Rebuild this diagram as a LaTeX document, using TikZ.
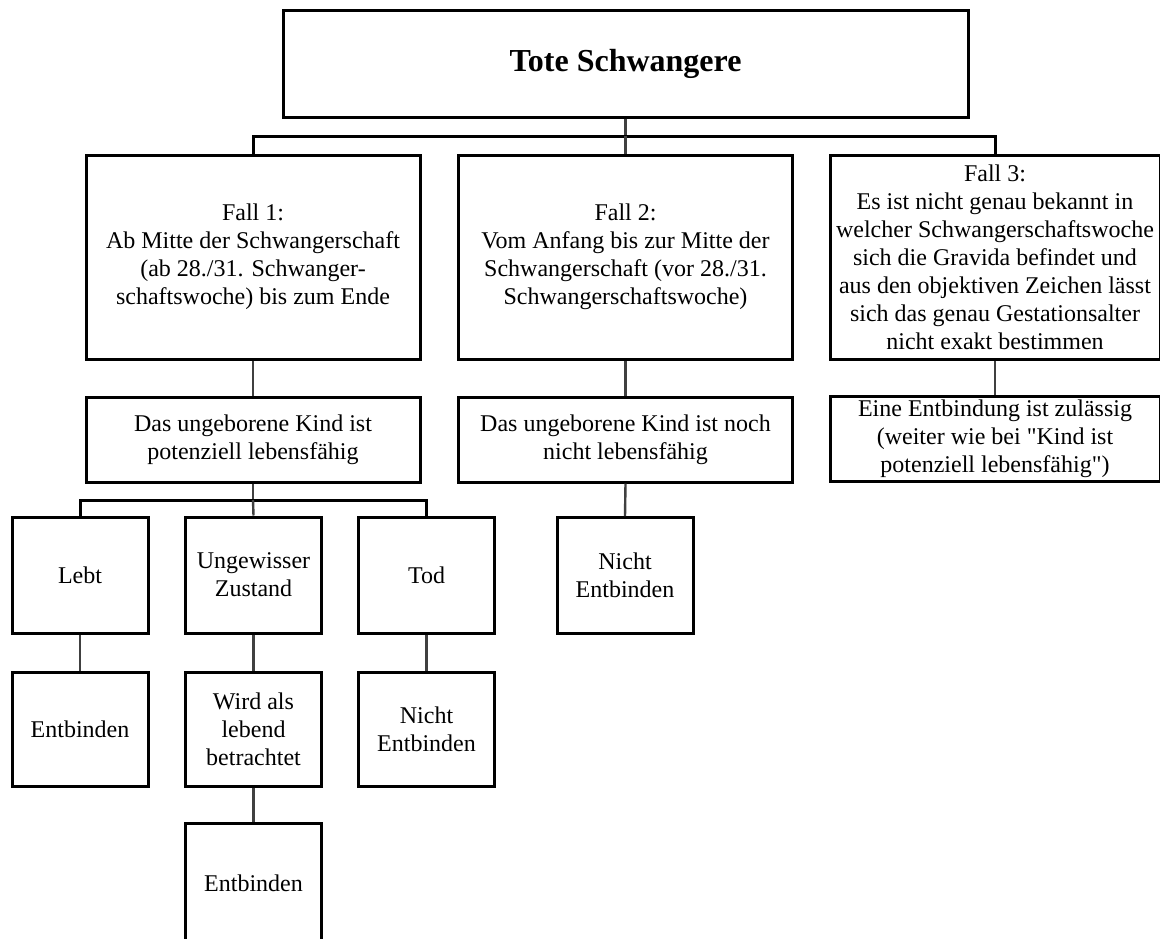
\documentclass[tikz,border=0pt]{standalone}
\usepackage{fontspec}
\setmainfont{Liberation Serif}[Ligatures=TeXOff]

\begin{document}
\begin{tikzpicture}[x=0.5pt,y=-0.5pt,
    box/.style={draw,line width=1.5pt,inner sep=0pt,align=center,
      font=\fontsize{12}{14}\selectfont},
    fallbox/.style={box,minimum width=167pt,minimum height=102pt},
    kindbox/.style={box,minimum width=167pt,minimum height=42.5pt},
    smallbox/.style={box,minimum width=68pt,minimum height=58pt},
    bus/.style={line width=1.5pt},
    stem/.style={line width=1.2pt,black!75}]
  \useasboundingbox (0,0) rectangle (1160,938);
  \clip (0,0) rectangle (1160,938);

  % Root
  \node[box,minimum width=342.5pt,minimum height=53.5pt,
    font=\fontsize{16}{19}\selectfont\bfseries] (top) at (625.5,63.5) {Tote Schwangere};

  % The three cases
  \node[fallbox] (fallA) at (253,257) {Fall 1:\\Ab Mitte der Schwangerschaft\\(ab 28./31. Schwanger-\\schaftswoche) bis zum Ende};
  \node[fallbox] (fallB) at (625.5,257) {Fall 2:\\Vom Anfang bis zur Mitte der\\Schwangerschaft (vor 28./31.\\Schwangerschaftswoche)};
  \node[fallbox,minimum width=165pt] (fallC) at (995,257) {Fall 3:\\Es ist nicht genau bekannt in\\welcher Schwangerschaftswoche\\sich die Gravida befindet und\\aus den objektiven Zeichen lässt\\sich das genau Gestationsalter\\nicht exakt bestimmen};

  % Second row
  \node[kindbox] (kindA) at (253,439.5) {Das ungeborene Kind ist\\potenziell lebensfähig};
  \node[kindbox] (kindB) at (625.5,439.5) {Das ungeborene Kind ist noch\\nicht lebensfähig};
  \node[kindbox,minimum width=165pt] (kindC) at (995,439) {Eine Entbindung ist zulässig\\(weiter wie bei "Kind ist\\potenziell lebensfähig")};

  % State of the child
  \node[smallbox] (lebt) at (80,575) {Lebt};
  \node[smallbox] (ungewiss) at (253.5,575) {Ungewisser\\Zustand};
  \node[smallbox] (tod) at (426.5,575) {Tod};
  \node[smallbox] (nichtB) at (625,575.5) {Nicht\\Entbinden};

  % Consequences
  \node[smallbox,minimum height=57pt] (entbA) at (80,729) {Entbinden};
  \node[smallbox,minimum height=57pt] (wird) at (253.5,729) {Wird als\\lebend\\betrachtet};
  \node[smallbox,minimum height=57pt] (nichtA) at (426.5,729) {Nicht\\Entbinden};
  \node[smallbox,minimum height=60.5pt] (entbB) at (253.5,883.5) {Entbinden};

  % Connectors
  \coordinate (busA) at (625.5,136);
  \coordinate (busB) at (253,500);
  \draw[stem] (top.south) -- (busA);
  \draw[bus] (fallA.north) |- (busA) -| (fallC.north);
  \draw[stem] (busA) -- (fallB.north);
  \draw[stem] (fallA.south) -- (kindA.north);
  \draw[stem] (fallB.south) -- (kindB.north);
  \draw[stem] (fallC.south) -- (kindC.north);
  \draw[stem] (kindA.south) -- (busB);
  \draw[bus] (lebt.north) |- (busB) -| (tod.north);
  \draw[stem] (busB) -- (ungewiss.north);
  \draw[stem] (kindB.south) -- (nichtB.north);
  \draw[stem] (lebt.south) -- (entbA.north);
  \draw[stem] (ungewiss.south) -- (wird.north);
  \draw[stem] (tod.south) -- (nichtA.north);
  \draw[stem] (wird.south) -- (entbB.north);
\end{tikzpicture}
\end{document}
